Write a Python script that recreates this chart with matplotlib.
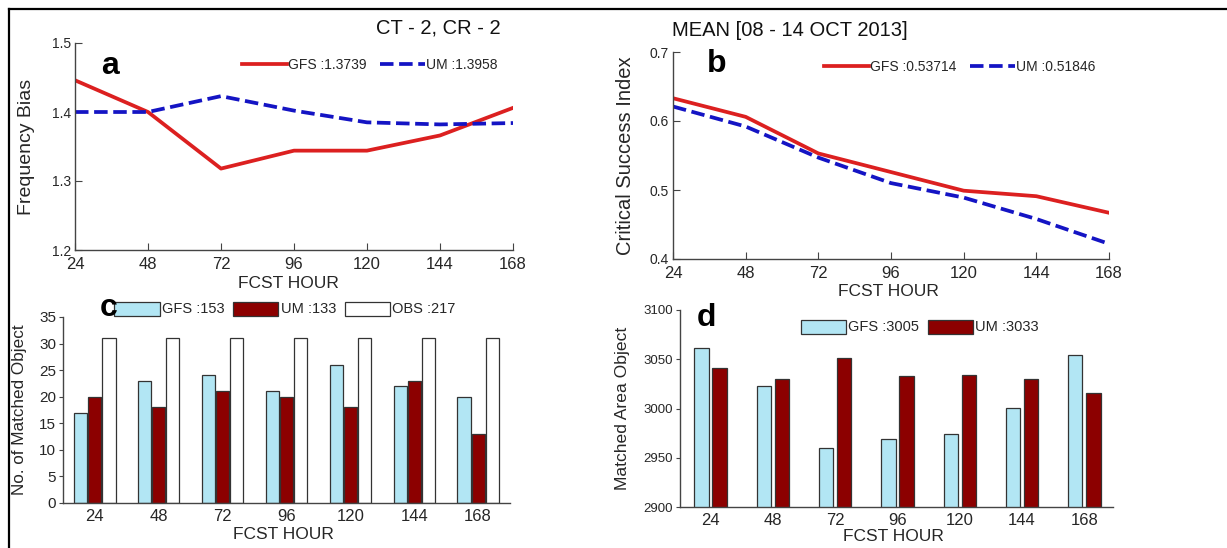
import matplotlib
matplotlib.use("Agg")
import matplotlib.pyplot as plt
from matplotlib.lines import Line2D
import numpy as np

plt.rcParams['font.family'] = ['Liberation Sans', 'DejaVu Sans']

# ---------------- data ----------------
hours = [24, 48, 72, 96, 120, 144, 168]
hour_labels = ['24', '48', '72', '96', '120', '144', '168']

fb_gfs = [1.446, 1.400, 1.318, 1.344, 1.344, 1.366, 1.406]
fb_um = [1.400, 1.400, 1.423, 1.402, 1.385, 1.382, 1.384]

csi_gfs = [0.633, 0.606, 0.553, 0.526, 0.499, 0.491, 0.467]
csi_um = [0.621, 0.592, 0.547, 0.510, 0.489, 0.458, 0.422]

cnt_gfs = [17, 23, 24, 21, 26, 22, 20]
cnt_um = [20, 18, 21, 20, 18, 23, 13]
cnt_obs = [31, 31, 31, 31, 31, 31, 31]

area_gfs = [3061, 3023, 2960, 2969, 2974, 3001, 3054]
area_um = [3041, 3030, 3051, 3033, 3034, 3030, 3016]

leg_a = ['GFS :1.3739', 'UM :1.3958']
leg_b = ['GFS :0.53714', 'UM :0.51846']
leg_c = ['GFS :153', 'UM :133', 'OBS :217']
leg_d = ['GFS :3005', 'UM :3033']

# ---------------- style ----------------
W, H = 1227, 548
RED = '#dc2020'
BLUE = '#1414c4'
CYAN = '#b2e6f4'
DRED = '#8c0000'
TXT = '#262626'
SPINE = '#444444'

fig = plt.figure(figsize=(W / 100, H / 100), dpi=100)


def rect(l, r, t, b):
    return [l / W, 1 - b / H, (r - l) / W, (b - t) / H]


def style(ax):
    for s in ['top', 'right']:
        ax.spines[s].set_visible(False)
    for s in ['left', 'bottom']:
        ax.spines[s].set_color(SPINE)
        ax.spines[s].set_linewidth(1.0)
    ax.tick_params(colors=SPINE, labelcolor=TXT)


def place_labels(ax, l, r, t, b, ylx, xlx, xly):
    ax.yaxis.set_label_coords((ylx - l) / (r - l), 0.5)
    ax.xaxis.set_label_coords((xlx - l) / (r - l), -(xly - b) / (b - t))


LW = 2.7
DASH = (3.6, 1.5)

# ---- panel a ----
la, ra, ta, ba = 75, 513, 43, 250
axa = fig.add_axes(rect(la, ra, ta, ba))
style(axa)
axa.plot(hours, fb_gfs, color=RED, lw=LW, label=leg_a[0])
axa.plot(hours, fb_um, color=BLUE, lw=LW, dashes=DASH, label=leg_a[1])
axa.set_xlim(24, 168)
axa.set_ylim(1.2, 1.5)
axa.set_xticks(hours)
axa.set_xticklabels(hour_labels)
axa.set_yticks([1.2, 1.3, 1.4, 1.5])
axa.set_yticklabels(['1.2', '1.3', '1.4', '1.5'])
axa.tick_params(axis='x', direction='in', length=5, labelsize=12, pad=5)
axa.tick_params(axis='y', direction='in', length=5, labelsize=10, pad=3)
axa.set_xlabel('FCST HOUR', fontsize=12.5, color=TXT)
axa.set_ylabel('Frequency Bias', fontsize=14, color=TXT)
place_labels(axa, la, ra, ta, ba, 35, 288, 276)
axa.legend(loc='center', bbox_to_anchor=(370 / W, 1 - 65 / H), bbox_transform=fig.transFigure,
           ncol=2, frameon=False, fontsize=10, handlelength=3.2, handletextpad=0.1,
           columnspacing=1.0, labelcolor=TXT)

# ---- panel b ----
lb, rb, tb, bb = 673, 1109, 52, 259
axb = fig.add_axes(rect(lb, rb, tb, bb))
style(axb)
axb.plot(hours, csi_gfs, color=RED, lw=LW, label=leg_b[0])
axb.plot(hours, csi_um, color=BLUE, lw=LW, dashes=DASH, label=leg_b[1])
axb.set_xlim(24, 168)
axb.set_ylim(0.4, 0.7)
axb.set_xticks(hours)
axb.set_xticklabels(hour_labels)
axb.set_yticks([0.4, 0.5, 0.6, 0.7])
axb.set_yticklabels(['0.4', '0.5', '0.6', '0.7'])
axb.tick_params(axis='x', direction='in', length=5, labelsize=12, pad=5)
axb.tick_params(axis='y', direction='in', length=5, labelsize=10, pad=3)
axb.set_xlabel('FCST HOUR', fontsize=12.5, color=TXT)
axb.set_ylabel('Critical Success Index', fontsize=14.5, color=TXT)
place_labels(axb, lb, rb, tb, bb, 635, 888, 284)
axb.legend(loc='center', bbox_to_anchor=(960 / W, 1 - 67 / H), bbox_transform=fig.transFigure,
           ncol=2, frameon=False, fontsize=10, handlelength=3.2, handletextpad=0.1,
           columnspacing=1.0, labelcolor=TXT)

# ---- panel c ----
lc, rc, tc, bc = 63, 510, 317, 503
axc = fig.add_axes(rect(lc, rc, tc, bc))
style(axc)
pos = np.arange(1, len(hours) + 1)
bw = 0.205
axc.bar(pos - 0.22, cnt_gfs, bw, color=CYAN, edgecolor='#333333', lw=0.9, label=leg_c[0])
axc.bar(pos, cnt_um, bw, color=DRED, edgecolor='#333333', lw=0.9, label=leg_c[1])
axc.bar(pos + 0.22, cnt_obs, bw, color='white', edgecolor='#333333', lw=0.9, label=leg_c[2])
axc.set_xlim(0.5, 7.5)
axc.set_ylim(0, 35)
axc.set_xticks(pos)
axc.set_xticklabels(hour_labels)
axc.set_yticks(range(0, 36, 5))
axc.tick_params(axis='x', length=0, labelsize=12, pad=4)
axc.tick_params(axis='y', direction='out', length=3, labelsize=11, pad=2)
axc.set_xlabel('FCST HOUR', fontsize=12.5, color=TXT)
axc.set_ylabel('No. of Matched Object', fontsize=12.3, color=TXT)
place_labels(axc, lc, rc, tc, bc, 27, 283, 527)
axc.legend(loc='center', bbox_to_anchor=(285 / W, 1 - 309 / H), bbox_transform=fig.transFigure,
           ncol=3, frameon=False, fontsize=10.5, handlelength=3.1, handleheight=1.1,
           handletextpad=0.15, columnspacing=0.6, labelcolor=TXT)

# ---- panel d ----
ld, rd, td, bd = 680, 1113, 310, 507
axd = fig.add_axes(rect(ld, rd, td, bd))
style(axd)
bw2 = 0.23
axd.bar(pos - 0.145, area_gfs, bw2, color=CYAN, edgecolor='#333333', lw=0.9, label=leg_d[0])
axd.bar(pos + 0.145, area_um, bw2, color=DRED, edgecolor='#333333', lw=0.9, label=leg_d[1])
axd.set_xlim(0.51, 7.46)
axd.set_ylim(2900, 3100)
axd.set_xticks(pos)
axd.set_xticklabels(hour_labels)
axd.set_yticks([2900, 2950, 3000, 3050, 3100])
axd.tick_params(axis='x', length=0, labelsize=12, pad=4)
axd.tick_params(axis='y', direction='out', length=3, labelsize=9.5, pad=2)
axd.set_xlabel('FCST HOUR', fontsize=12.5, color=TXT)
axd.set_ylabel('Matched Area Object', fontsize=12.6, color=TXT)
place_labels(axd, ld, rd, td, bd, 630, 893, 529)
axd.legend(loc='center', bbox_to_anchor=(920 / W, 1 - 327 / H), bbox_transform=fig.transFigure,
           ncol=2, frameon=False, fontsize=10.5, handlelength=3.1, handleheight=1.1,
           handletextpad=0.15, columnspacing=0.6, labelcolor=TXT)

# ---- titles and panel letters ----
fig.text(438 / W, 1 - 28 / H, 'CT - 2, CR - 2', fontsize=14.5, color='#111111',
         ha='center', va='center')
fig.text(790 / W, 1 - 31 / H, 'MEAN [08 - 14 OCT 2013]', fontsize=14.5, color='#111111',
         ha='center', va='center')
for ch, x, y in [('a', 110, 66), ('b', 717, 64), ('c', 109, 308), ('d', 706, 318)]:
    fig.text(x / W, 1 - y / H, ch, fontsize=23, fontweight='bold', color='black',
             ha='center', va='center')

# ---- outer border (left and top) ----
fig.add_artist(Line2D([8.5 / W, 8.5 / W], [0, 1 - 8.5 / H], transform=fig.transFigure,
                      color='black', lw=1.6))
fig.add_artist(Line2D([8.5 / W, 1], [1 - 8.5 / H, 1 - 8.5 / H], transform=fig.transFigure,
                      color='black', lw=1.6))

fig.savefig('out.png', dpi=100)
